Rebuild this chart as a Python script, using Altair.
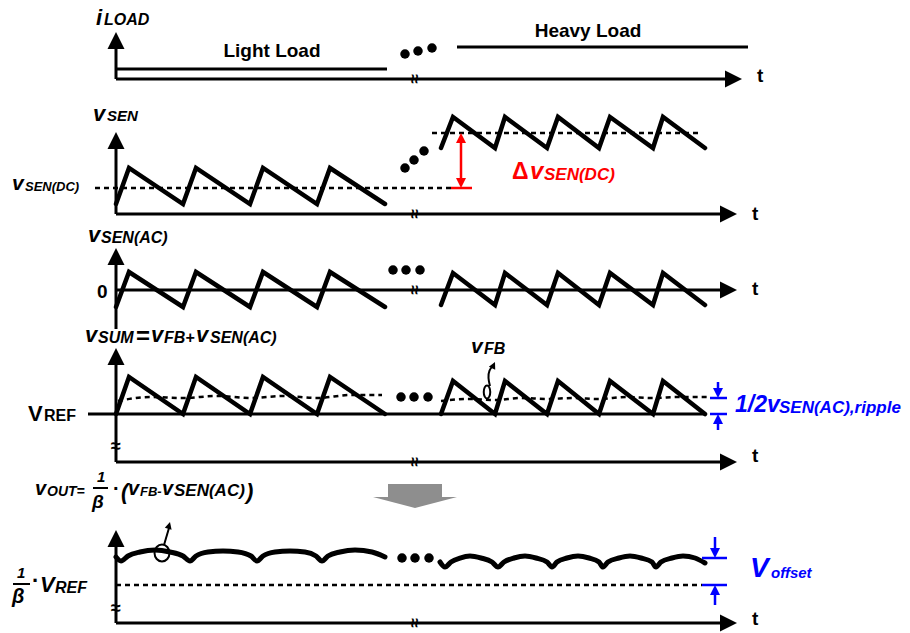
import altair as alt
import pandas as pd

FONT = "Liberation Sans"
W, H = 910, 633
BLUE = "#0000ff"
RED = "#ff0000"
GRAY = "#8e8e8e"

# ---------------- data (diagram coordinates: t to the right, level downward) ----------------
T_LIGHT = [116, 129, 183, 196, 250, 263, 317, 330, 385]
T_HEAVY = [441, 453, 495, 505, 547, 558, 599, 610, 653, 663, 705]

VSEN_LIGHT = [204, 168, 204, 168, 204, 168, 204, 168, 204]
VSEN_HEAVY = [148, 117, 148, 117, 148, 117, 148, 117, 148, 117, 148]
VAC_LIGHT = [307, 272, 307, 272, 307, 272, 307, 272, 307]
VAC_HEAVY = [305, 273, 305, 273, 305, 273, 305, 273, 305, 273, 305]
VSUM_LIGHT = [414, 377, 414, 377, 414, 377, 414, 377, 414]
VSUM_HEAVY = [414, 381, 414, 381, 414, 381, 414, 381, 414, 381, 414]

VFB_T_LIGHT = [118, 150, 183, 217, 250, 284, 317, 351, 382]
VFB_LIGHT = [401, 397, 398, 396, 398, 396, 398, 395, 395]
VFB_T_HEAVY = [441, 468, 495, 521, 547, 573, 599, 626, 653, 680, 708]
VFB_HEAVY = [401, 399, 400, 398, 399, 398, 399, 397, 398, 397, 397]

VOUT_T_LIGHT = [116, 121, 128, 140, 155, 170, 183, 190, 196, 208, 223, 238, 251, 257,
                263, 275, 290, 305, 316, 322, 328, 340, 355, 372, 385]
VOUT_LIGHT = [557, 561, 556, 552, 550, 552, 556, 561, 556, 552, 551, 552, 556, 561,
              556, 552, 551, 552, 556, 561, 556, 552, 550, 552, 557]
VOUT_T_HEAVY = [440, 445, 451, 460, 470, 481, 492, 498, 504, 514, 525, 536, 547, 552,
                557, 567, 578, 589, 599, 603, 608, 619, 630, 641, 652, 656, 661, 672, 683, 695, 705]
VOUT_HEAVY = [562, 567, 562, 558, 556, 558, 562, 567, 562, 558, 556, 558, 562, 567,
              562, 558, 556, 558, 562, 567, 562, 558, 556, 558, 562, 567, 562, 558, 556, 558, 563]

# axes and load-level segments (x1, y1, x2, y2)
AXIS_SEGS = [
    (116, 79, 116, 42), (116, 79, 734, 79), (116, 69, 387, 69), (457, 47, 748, 47),
    (116, 214, 116, 142), (116, 214, 729, 214),
    (116, 329, 116, 258), (116, 290, 729, 290),
    (116, 462, 116, 358), (88, 414, 705, 414), (116, 462, 729, 462),
    (116, 623, 116, 540), (116, 623, 729, 623),
]
DASH_SEGS = [(95, 188, 451, 188), (432, 133, 700, 133), (116, 585, 702, 585)]
RED_SEGS = [(461, 141, 461, 180), (451, 188, 472, 188)]
BLUE_SEGS = [(710, 398, 727, 398), (718, 382, 718, 390), (710, 414, 727, 414), (718, 430, 718, 422),
             (702, 558, 727, 558), (715, 537, 715, 550), (702, 585, 727, 585), (715, 605, 715, 593)]
FRAC_SEGS = [(93, 488, 108, 488), (13, 584, 30, 584)]
ANNOT_CURVE_X = [490, 488, 489, 493]
ANNOT_CURVE_Y = [386, 378, 370, 366]
ANNOT_LINE = [(164, 545, 169, 528)]

# arrowheads: x, y (tip), direction angle, colour, length
ARROWS = [
    (116, 32, 0, "black", 17), (116, 132, 0, "black", 17), (116, 248, 0, "black", 17),
    (116, 348, 0, "black", 17), (116, 530, 0, "black", 17),
    (742, 79, 90, "black", 17), (737, 214, 90, "black", 17), (737, 290, 90, "black", 17),
    (737, 462, 90, "black", 17), (737, 623, 90, "black", 17),
    (461, 133, 0, RED, 10), (461, 188, 180, RED, 10),
    (718, 398, 180, BLUE, 10), (718, 414, 0, BLUE, 10),
    (715, 558, 180, BLUE, 10), (715, 585, 0, BLUE, 10),
    (495, 362, 25, "black", 7), (170, 522, 15, "black", 7),
]

DOTS_X = [405, 418, 432, 405, 414, 424, 393, 406, 420, 401, 414, 428, 402, 415, 429]
DOTS_Y = [54, 51, 48, 168, 160, 151, 270, 270, 270, 397, 397, 397, 558, 558, 558]

# text pieces: text, x, y(baseline), size, colour
TXT_ITALIC = [
    ("i", 96, 25, 22, "black"), ("LOAD", 104, 25, 16, "black"),
    ("v", 93, 121, 22, "black"), ("SEN", 107, 121, 15, "black"),
    ("v", 12, 190, 21, "black"), ("SEN(DC)", 25, 191, 13, "black"),
    ("v", 88, 242, 22, "black"), ("SEN(AC)", 101, 243, 16, "black"),
    ("v", 85, 342, 22, "black"), ("SUM", 98, 343, 16, "black"),
    ("v", 151, 342, 22, "black"), ("FB+", 164, 343, 16, "black"),
    ("v", 196, 342, 22, "black"), ("SEN(AC)", 210, 343, 16, "black"),
    ("v", 471, 353, 21, "black"), ("FB", 484, 354, 16, "black"),
    ("1/2v", 735, 412, 23, BLUE), ("SEN(AC),ripple", 779, 413, 17, BLUE),
    ("v", 530, 179, 24, RED), ("SEN(DC)", 544, 180, 17, RED),
    ("v", 35, 495, 20, "black"), ("OUT=", 47, 496, 14, "black"),
    ("1", 97, 482, 15, "black"), ("β", 92, 508, 19, "black"),
    ("(", 121, 499, 22, "black"), ("v", 128, 495, 20, "black"), ("FB-", 140, 496, 13, "black"),
    ("v", 162, 495, 20, "black"), ("SEN(AC)", 174, 496, 17, "black"), (")", 246, 499, 22, "black"),
    ("1", 17, 578, 15, "black"), ("β", 12, 603, 20, "black"),
    ("V", 40, 592, 22, "black"), ("REF", 55, 593, 16, "black"),
    ("V", 750, 577, 28, BLUE), ("offset", 771, 578, 15, BLUE),
]
TXT_UPRIGHT = [
    ("0", 97, 298, 19, "black"), ("=", 136, 344, 24, "black"),
    ("V", 28, 421, 22, "black"), ("REF", 44, 421, 16, "black"),
    ("Δ", 512, 179, 23, RED),
    ("·", 113, 495, 20, "black"), ("·", 32, 588, 22, "black"),
    ("t", 757, 82, 19, "black"), ("t", 752, 220, 19, "black"), ("t", 752, 295, 19, "black"),
    ("t", 752, 462, 19, "black"), ("t", 752, 625, 19, "black"),
]
TXT_CENTER = [("Light Load", 272, 57, 19, "black"), ("Heavy Load", 588, 37, 19, "black")]

# axis-break marks: x, y, angle, size
BREAKS = [(414, 79, 90, 17), (414, 214, 90, 17), (414, 290, 90, 17), (414, 462, 90, 17),
          (414, 623, 90, 17), (116, 447, 0, 18), (116, 609, 0, 18)]

# grey block arrow
GREY_BODY = (388, 442, 484, 497)
GREY_HEAD_X = [373, 415, 457]
GREY_HEAD_Y = [497, 497, 497]
GREY_HEAD_Y2 = [497, 508, 497]

# ---------------- helpers ----------------
xs = alt.Scale(domain=[0, W], nice=False, zero=False)
ys = alt.Scale(domain=[0, H], reverse=True, nice=False, zero=False)
X = alt.X("x:Q", scale=xs, axis=None)
Y = alt.Y("y:Q", scale=ys, axis=None)


def paths_df(paths):
    rows = []
    for g, (px, py) in enumerate(paths):
        for o, (a, b) in enumerate(zip(px, py)):
            rows.append(dict(x=a, y=b, g=g, o=o))
    return pd.DataFrame(rows)


def segs_df(segs):
    return paths_df([([a, c], [b, d]) for a, b, c, d in segs])


def lines(df, width, color="black", dash=None, interp="linear", cap="butt"):
    kw = dict(strokeWidth=width, color=color, interpolate=interp, strokeCap=cap,
              strokeJoin="miter", clip=False)
    if dash:
        kw["strokeDash"] = dash
    return alt.Chart(df).mark_line(**kw).encode(x=X, y=Y, detail="g:N", order="o:Q")


def texts(rows, italic, align="left"):
    df = pd.DataFrame(rows, columns=["t", "x", "y", "s", "c"])
    kw = dict(font=FONT, fontWeight="bold", align=align, baseline="alphabetic")
    if italic:
        kw["fontStyle"] = "italic"
    return alt.Chart(df).mark_text(**kw).encode(
        x=X, y=Y, text="t:N",
        size=alt.Size("s:Q", scale=None),
        color=alt.Color("c:N", scale=None))


layers = []

# grey arrow
body = pd.DataFrame([dict(x=GREY_BODY[0], x2=GREY_BODY[1], y=GREY_BODY[2], y2=GREY_BODY[3])])
layers.append(alt.Chart(body).mark_rect(color=GRAY).encode(
    x=X, x2="x2:Q", y=Y, y2="y2:Q"))
head = pd.DataFrame(dict(x=GREY_HEAD_X, y=GREY_HEAD_Y, y2=GREY_HEAD_Y2))
layers.append(alt.Chart(head).mark_area(color=GRAY, opacity=1).encode(x=X, y=Y, y2="y2:Q"))

# dashed lines
layers.append(lines(segs_df(DASH_SEGS), 2.5, dash=[5, 4]))
layers.append(lines(paths_df([(VFB_T_LIGHT, VFB_LIGHT), (VFB_T_HEAVY, VFB_HEAVY)]), 2.5,
                    dash=[5, 4], interp="monotone"))

# axes
layers.append(lines(segs_df(AXIS_SEGS), 3))

# waveforms
saw = [(T_LIGHT, VSEN_LIGHT), (T_HEAVY, VSEN_HEAVY), (T_LIGHT, VAC_LIGHT), (T_HEAVY, VAC_HEAVY),
       (T_LIGHT, VSUM_LIGHT), (T_HEAVY, VSUM_HEAVY)]
layers.append(lines(paths_df(saw), 4.5, cap="round"))
layers.append(lines(paths_df([(VOUT_T_LIGHT, VOUT_LIGHT), (VOUT_T_HEAVY, VOUT_HEAVY)]), 5,
                    interp="monotone", cap="round"))

# red / blue markers
layers.append(lines(segs_df(RED_SEGS), 2.5, color=RED))
layers.append(lines(segs_df(BLUE_SEGS), 2.5, color=BLUE))
layers.append(lines(segs_df(FRAC_SEGS), 2))

# annotation arrows
layers.append(lines(paths_df([(ANNOT_CURVE_X, ANNOT_CURVE_Y)]), 2, interp="basis"))
layers.append(lines(segs_df(ANNOT_LINE), 2))

# ellipses
ell = pd.DataFrame([
    dict(x=487, y=392, shape="M0,-1A0.5,1,0,1,1,0,1A0.5,1,0,1,1,0,-1Z", s=169),
    dict(x=162, y=553, shape="M0,-1A0.88,1,0,1,1,0,1A0.88,1,0,1,1,0,-1Z", s=289),
])
layers.append(alt.Chart(ell).mark_point(filled=False, color="black", strokeWidth=2, opacity=1).encode(
    x=X, y=Y, shape=alt.Shape("shape:N", scale=None), size=alt.Size("s:Q", scale=None)))

# arrowheads
arr = pd.DataFrame(ARROWS, columns=["x", "y", "a", "c", "L"])
arr["s"] = (2 * arr["L"]) ** 2
layers.append(alt.Chart(arr).mark_point(filled=True, opacity=1, strokeWidth=0,
                                        shape="M0,0L-0.5,1L0.5,1Z").encode(
    x=X, y=Y, angle=alt.Angle("a:Q", scale=None),
    color=alt.Color("c:N", scale=None), size=alt.Size("s:Q", scale=None)))

# dots
dots = pd.DataFrame(dict(x=DOTS_X, y=DOTS_Y))
layers.append(alt.Chart(dots).mark_circle(color="black", size=90, opacity=1).encode(x=X, y=Y))

# break marks
br = pd.DataFrame(BREAKS, columns=["x", "y", "a", "s"])
br["c"] = "#000000"
layers.append(alt.Chart(br).mark_text(text="≈", font=FONT, fontWeight="bold", align="center",
                                      baseline="middle").encode(
    x=X, y=Y, angle=alt.Angle("a:Q", scale=None), size=alt.Size("s:Q", scale=None),
    color=alt.Color("c:N", scale=None)))

# texts
layers.append(texts(TXT_ITALIC, True))
layers.append(texts(TXT_UPRIGHT, False))
layers.append(texts(TXT_CENTER, False, align="center"))

chart = alt.layer(*layers).properties(
    width=W, height=H, autosize=alt.AutoSizeParams(type="none"), padding=0
).configure_view(stroke=None)

chart.save("out.html", embed_options={"renderer": "svg", "actions": False})
